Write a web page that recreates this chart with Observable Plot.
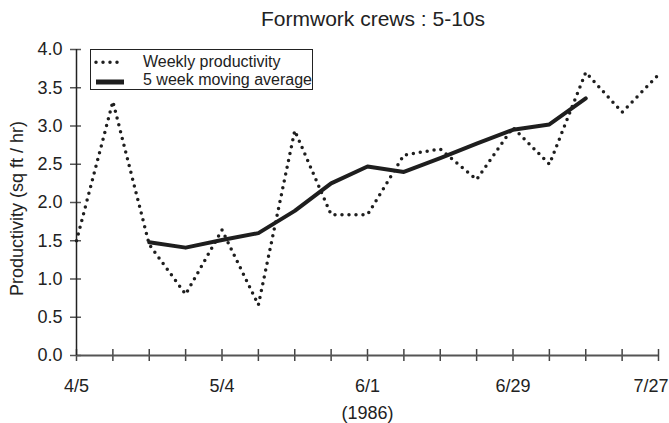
<!DOCTYPE html>
<html>
<head>
<meta charset="utf-8">
<script src="https://cdn.jsdelivr.net/npm/d3@7"></script>
<script src="https://cdn.jsdelivr.net/npm/@observablehq/plot@0.6"></script>
<style>
  html, body { margin: 0; padding: 0; background: #fff; }
  body { font-family: "Liberation Sans", Arial, Helvetica, sans-serif; color: #222; }
  #wrap { position: relative; width: 669px; height: 423px; overflow: hidden; }
  #title { height: 36px; line-height: 38px; font-size: 21px; text-align: center; padding-left: 77px; box-sizing: border-box; width: 669px; overflow: visible; white-space: nowrap; }
  #legend { position: absolute; left: 90px; top: 49px; width: 221px; height: 39px; border: 1px solid #222; background: #fff; }
  #legend svg { display: block; }
</style>
</head>
<body>
<div id="wrap">
  <div id="title">Formwork crews : 5-10s</div>
  <div id="chart"></div>
  <div id="legend"></div>
</div>
<script>
// Week index (weekly observations starting 4/5/1986)
const weekIdx = [0, 1, 2, 3, 4, 5, 6, 7, 8, 9, 10, 11, 12, 13, 14, 15, 16];
// Weekly productivity (sq ft / hr)
const weekly = [1.50, 3.32, 1.45, 0.80, 1.64, 0.66, 2.94, 1.84, 1.84, 2.62, 2.70, 2.30, 2.98, 2.50, 3.70, 3.18, 3.67];
// 5 week moving average (weeks 2..14)
const avgIdx = [2, 3, 4, 5, 6, 7, 8, 9, 10, 11, 12, 13, 14];
const movingAvg = [1.48, 1.41, 1.51, 1.60, 1.89, 2.25, 2.47, 2.40, 2.58, 2.77, 2.95, 3.02, 3.36];
// Tick labels
const tickIdx = [0, 4, 8, 12, 16];
const tickLabels = ["4/5", "5/4", "6/1", "6/29", "7/27"];
const yTicks = [0, 0.5, 1, 1.5, 2, 2.5, 3, 3.5, 4];

const weeklyData = weekIdx.map((w, i) => ({w, v: weekly[i]}));
const avgData = avgIdx.map((w, i) => ({w, v: movingAvg[i]}));
const lastTick = tickIdx.length - 1;
const labelOf = new Map(tickIdx.slice(0, lastTick).map((t, i) => [t, tickLabels[i]]));
const lastLabel = [{w: tickIdx[lastTick], label: tickLabels[lastTick]}];

const ink = "#1e1e1e";

const chart = Plot.plot({
  width: 669,
  height: 387,
  marginLeft: 76,
  marginRight: 11,
  marginTop: 13,
  marginBottom: 68,
  style: {fontFamily: '"Liberation Sans", Arial, Helvetica, sans-serif', fontSize: "18px", color: "#222", background: "#fff"},
  x: {domain: [0, 16]},
  y: {domain: [0, 4]},
  marks: [
    Plot.axisY({ticks: yTicks, tickFormat: d3.format(".1f"), tickSize: 11, dx: 5, tickPadding: 8, stroke: "#555", strokeWidth: 1.5, fontSize: 18, fill: "#222", label: null}),
    Plot.axisX({ticks: weekIdx, tickFormat: d => labelOf.get(d) ?? "", tickSize: 12, dy: -6, tickPadding: 18, stroke: "#444", strokeWidth: 1.5, fontSize: 18, fill: "#222", label: null}),
    Plot.text(lastLabel, {x: "w", text: "label", frameAnchor: "bottom", dy: 24, dx: 10, textAnchor: "end", lineAnchor: "top", fontSize: 18, fill: "#222"}),
    Plot.ruleY([0], {stroke: "#555", strokeWidth: 2}),
    Plot.ruleX([0], {stroke: "#222", strokeWidth: 1.5}),
    Plot.text(["Productivity (sq ft / hr)"], {frameAnchor: "left", rotate: -90, dx: -59, dy: 6, fontSize: 18, fill: "#222", textAnchor: "middle", lineAnchor: "middle"}),
    Plot.text(["(1986)"], {x: 8, frameAnchor: "bottom", dy: 58, fontSize: 18, fill: "#222", lineAnchor: "middle"}),
    Plot.line(weeklyData, {x: "w", y: "v", stroke: ink, strokeWidth: 3.5, strokeDasharray: "0 7", strokeLinecap: "round"}),
    Plot.line(avgData, {x: "w", y: "v", stroke: ink, strokeWidth: 4})
  ]
});
document.getElementById("chart").appendChild(chart);

// Legend
const legend = d3.select("#legend").append("svg").attr("width", 221).attr("height", 39);
legend.append("line").attr("x1", 5).attr("x2", 33).attr("y1", 12.3).attr("y2", 12.3)
  .attr("stroke", ink).attr("stroke-width", 3.5).attr("stroke-dasharray", "0 7").attr("stroke-linecap", "round");
legend.append("line").attr("x1", 5).attr("x2", 33).attr("y1", 32).attr("y2", 32)
  .attr("stroke", ink).attr("stroke-width", 5);
legend.append("text").attr("x", 52).attr("y", 16.7).attr("font-size", 16).attr("fill", "#222")
  .attr("font-family", '"Liberation Sans", Arial, sans-serif').text("Weekly productivity");
legend.append("text").attr("x", 52).attr("y", 35).attr("font-size", 16).attr("fill", "#222")
  .attr("font-family", '"Liberation Sans", Arial, sans-serif').text("5 week moving average");
</script>
</body>
</html>
